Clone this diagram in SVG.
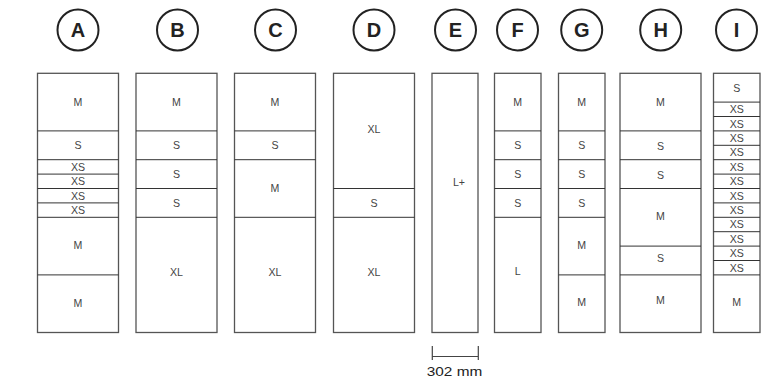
<svg xmlns="http://www.w3.org/2000/svg" width="773" height="381" viewBox="0 0 773 381">
<style>
.box{fill:#fff;stroke:#555;stroke-width:1.3}
.div{stroke:#333;stroke-width:1}
.lb{font-family:"Liberation Sans",Arial,sans-serif;font-size:10.6px;fill:#444;text-anchor:middle}
.hc{fill:none;stroke:#222;stroke-width:2}
.ht{font-family:"Liberation Sans",Arial,sans-serif;font-size:20px;font-weight:bold;fill:#222;text-anchor:middle}
.sb{stroke:#444;stroke-width:1.2;fill:none}
</style>
<rect width="773" height="381" fill="#fff"/>
<g id="headers">
<g id="hA"><circle class="hc" cx="78" cy="30" r="20.5"/><text class="ht" x="78" y="37.2">A</text></g>
<g id="hB"><circle class="hc" cx="177.5" cy="30" r="20.5"/><text class="ht" x="177.5" y="37.2">B</text></g>
<g id="hC"><circle class="hc" cx="275.5" cy="30" r="20.5"/><text class="ht" x="275.5" y="37.2">C</text></g>
<g id="hD"><circle class="hc" cx="374" cy="30" r="20.5"/><text class="ht" x="374" y="37.2">D</text></g>
<g id="hE"><circle class="hc" cx="455.5" cy="30" r="20.5"/><text class="ht" x="455.5" y="37.2">E</text></g>
<g id="hF"><circle class="hc" cx="517.5" cy="30" r="20.5"/><text class="ht" x="517.5" y="37.2">F</text></g>
<g id="hG"><circle class="hc" cx="581.7" cy="30" r="20.5"/><text class="ht" x="581.7" y="37.2">G</text></g>
<g id="hH"><circle class="hc" cx="660.7" cy="30" r="20.5"/><text class="ht" x="660.7" y="37.2">H</text></g>
<g id="hI"><circle class="hc" cx="736.5" cy="30" r="20.5"/><text class="ht" x="736.5" y="37.2">I</text></g>
</g>
<g id="colA">
<rect class="box" x="37.5" y="73.3" width="81" height="259.2"/>
<path class="div" d="M37.5 130.9H118.5M37.5 159.7H118.5M37.5 174.1H118.5M37.5 188.5H118.5M37.5 202.9H118.5M37.5 217.3H118.5M37.5 274.9H118.5"/>
<text class="lb" x="78" y="105.9">M</text>
<text class="lb" x="78" y="149.1">S</text>
<text class="lb" x="78" y="170.7">XS</text>
<text class="lb" x="78" y="185.1">XS</text>
<text class="lb" x="78" y="199.5">XS</text>
<text class="lb" x="78" y="213.9">XS</text>
<text class="lb" x="78" y="248.9">M</text>
<text class="lb" x="78" y="306.5">M</text>
</g>
<g id="colB">
<rect class="box" x="136" y="73.3" width="81" height="259.2"/>
<path class="div" d="M136 130.9H217M136 159.7H217M136 188.5H217M136 217.3H217"/>
<text class="lb" x="176.5" y="105.9">M</text>
<text class="lb" x="176.5" y="149.1">S</text>
<text class="lb" x="176.5" y="177.9">S</text>
<text class="lb" x="176.5" y="206.7">S</text>
<text class="lb" x="176.5" y="275.5">XL</text>
</g>
<g id="colC">
<rect class="box" x="234.5" y="73.3" width="81" height="259.2"/>
<path class="div" d="M234.5 130.9H315.5M234.5 159.7H315.5M234.5 217.3H315.5"/>
<text class="lb" x="275" y="105.9">M</text>
<text class="lb" x="275" y="149.1">S</text>
<text class="lb" x="275" y="191.7">M</text>
<text class="lb" x="275" y="275.5">XL</text>
</g>
<g id="colD">
<rect class="box" x="333.5" y="73.3" width="81" height="259.2"/>
<path class="div" d="M333.5 188.5H414.5M333.5 217.3H414.5"/>
<text class="lb" x="374" y="132.7">XL</text>
<text class="lb" x="374" y="206.7">S</text>
<text class="lb" x="374" y="275.5">XL</text>
</g>
<g id="colE">
<rect class="box" x="432" y="73.3" width="46" height="259.2"/>
<text class="lb" x="459" y="185.5">L+</text>
</g>
<g id="colF">
<rect class="box" x="494.5" y="73.3" width="46.5" height="259.2"/>
<path class="div" d="M494.5 130.9H541M494.5 159.7H541M494.5 188.5H541M494.5 217.3H541"/>
<text class="lb" x="517.7" y="105.9">M</text>
<text class="lb" x="517.7" y="149.1">S</text>
<text class="lb" x="517.7" y="177.9">S</text>
<text class="lb" x="517.7" y="206.7">S</text>
<text class="lb" x="517.7" y="274.7">L</text>
</g>
<g id="colG">
<rect class="box" x="558.5" y="73.3" width="46.5" height="259.2"/>
<path class="div" d="M558.5 130.9H605M558.5 159.7H605M558.5 188.5H605M558.5 217.3H605M558.5 274.9H605"/>
<text class="lb" x="581.7" y="105.9">M</text>
<text class="lb" x="581.7" y="149.1">S</text>
<text class="lb" x="581.7" y="177.9">S</text>
<text class="lb" x="581.7" y="206.7">S</text>
<text class="lb" x="581.7" y="248.9">M</text>
<text class="lb" x="581.7" y="305.5">M</text>
</g>
<g id="colH">
<rect class="box" x="620" y="73.3" width="81" height="259.2"/>
<path class="div" d="M620 130.9H701M620 159.7H701M620 188.5H701M620 246.1H701M620 274.9H701"/>
<text class="lb" x="660.5" y="105.9">M</text>
<text class="lb" x="660.5" y="150.2">S</text>
<text class="lb" x="660.5" y="179">S</text>
<text class="lb" x="660.5" y="220">M</text>
<text class="lb" x="660.5" y="261.7">S</text>
<text class="lb" x="660.5" y="303.5">M</text>
</g>
<g id="colI">
<rect class="box" x="713.5" y="73.3" width="46.5" height="259.2"/>
<path class="div" d="M713.5 102.1H760M713.5 116.5H760M713.5 130.9H760M713.5 145.3H760M713.5 159.7H760M713.5 174.1H760M713.5 188.5H760M713.5 202.9H760M713.5 217.3H760M713.5 231.7H760M713.5 246.1H760M713.5 260.5H760M713.5 274.9H760"/>
<text class="lb" x="736.7" y="91.5">S</text>
<text class="lb" x="736.7" y="113.1">XS</text>
<text class="lb" x="736.7" y="127.5">XS</text>
<text class="lb" x="736.7" y="141.9">XS</text>
<text class="lb" x="736.7" y="156.3">XS</text>
<text class="lb" x="736.7" y="170.7">XS</text>
<text class="lb" x="736.7" y="185.1">XS</text>
<text class="lb" x="736.7" y="199.5">XS</text>
<text class="lb" x="736.7" y="213.9">XS</text>
<text class="lb" x="736.7" y="228.3">XS</text>
<text class="lb" x="736.7" y="242.7">XS</text>
<text class="lb" x="736.7" y="257.1">XS</text>
<text class="lb" x="736.7" y="271.5">XS</text>
<text class="lb" x="736.7" y="305.5">M</text>
</g>
<g id="connectors">
<path class="sb" d="M432.3 346V360M478.3 346V360M432.3 356.5H478.3"/>
<text x="454.5" y="375.5" font-family="Liberation Sans, Arial, sans-serif" font-size="13.5" fill="#222" text-anchor="middle" textLength="55.5" lengthAdjust="spacingAndGlyphs">302 mm</text>
</g>
</svg>
